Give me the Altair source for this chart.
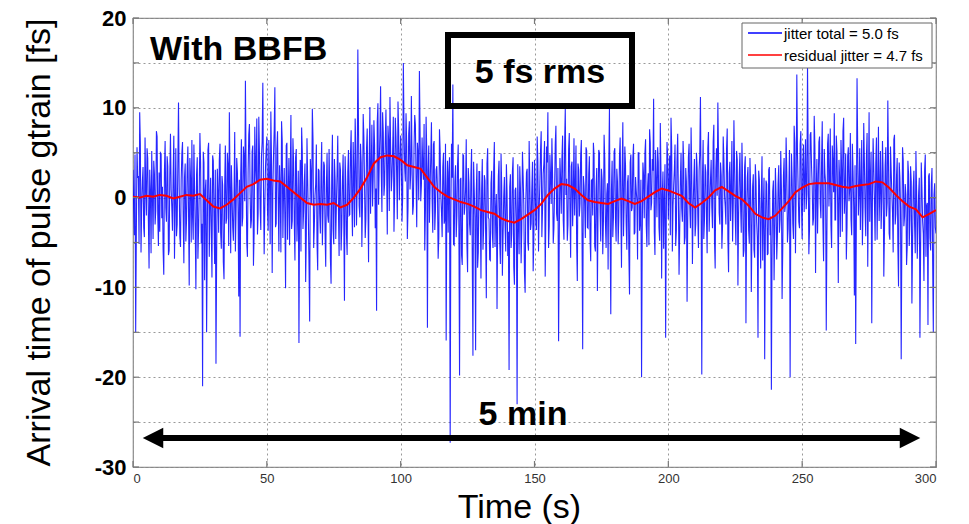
import altair as alt
import pandas as pd

# ---------------- data ----------------
# blue trace, samples every 0.5 s starting at t = 0
jitter_total = [
    3.1, -4.2, -15.0, 5.6, 2.4, 9.5, -6.1, 1.8, -3.3, 6.7, -2.0, 4.4, -7.9, 0.9, 5.2, -4.6, 2.7, -1.5, 6.8, -5.4,
    -3.8, 4.9, 1.2, -8.6, 6.3, -2.7, 3.5, -5.9, 7.1, -1.1, 2.6, -6.8, 5.5, -3.0, 10.6, -4.4, 1.9, 6.2, -7.3, 3.8,
    -2.5, 5.7, -9.8, 2.1, 6.4, -4.7, 1.3, -10.2, 4.5, -3.6, 7.2, -5.1, -21.0, 3.9, 0.8, -15.0, 5.3, -6.6, 2.2, -8.9,
    4.1, -7.4, -18.5, 3.2, -3.9, 6.0, -5.7, 1.4, -9.1, 5.8, -2.3, 3.7, 9.5, -6.2, 0.5, -4.8, 7.3, -1.7, 2.9, -11.0,
    -15.5, 6.5, -2.2, 4.3, 13.0, -5.0, 2.8, 8.2, -3.4, 5.1, -7.6, 7.9, 1.6, -4.1, 9.0, -1.2, 4.6, 12.8, -6.3, 3.4,
    6.8, -3.7, 2.3, 9.6, -8.4, 4.7, 12.3, -2.9, 7.4, -6.0, 1.1, 8.5, -4.5, 3.3, -10.1, 6.1, 0.4, -5.3, 9.2, -2.6,
    3.9, -7.0, 5.4, -1.8, -16.2, 4.2, 7.8, -3.5, 1.7, -9.4, 6.6, -2.1, -13.8, 2.5, 9.9, -5.6, 0.2, 5.9, -8.1, 3.0,
    -4.0, 6.2, -1.4, 3.6, -7.7, 5.0, -2.8, 1.0, -9.6, 7.0, -5.2, 2.0, -0.6, 6.9, -6.5, 3.1, -3.2, 4.8, -11.5, 1.5,
    -6.4, 5.3, -1.9, 7.5, -4.3, 2.4, 8.8, -3.1, 16.5, -0.9, 6.0, -5.5, 9.3, 1.8, -2.4, 7.7, -7.2, 10.1, 3.2, -1.0,
    8.6, -3.4, -12.6, 10.5, 4.0, 12.4, -1.6, 7.3, 1.5, 9.8, -4.1, 6.4, 11.2, 0.7, 5.2, -3.8, 8.9, 2.6, 10.7, -0.3,
    6.9, -2.7, 15.0, 3.4, 9.4, -4.6, 7.1, 0.9, 11.3, -1.9, 5.6, 8.1, -3.3, 4.9, 14.1, -0.4, 6.7, 2.0, -5.9, 9.0,
    -14.5, 5.8, 1.2, 8.4, -3.9, 6.3, -1.3, 3.5, -6.8, 7.6, 0.3, -4.4, 5.0, -2.5, -15.9, 4.1, 2.8, -27.3, 6.0, 12.6,
    -5.3, 3.6, -2.0, 5.9, -19.8, 2.2, -7.5, 4.7, -1.0, 6.5, -8.3, 1.7, -4.2, 5.4, -17.6, 0.6, -17.0, 3.8, -6.1, 2.9,
    -9.0, 4.3, -3.5, 1.9, -11.2, 5.5, -2.4, -7.0, 3.0, -5.6, 6.2, -1.5, -12.4, 2.4, -4.8, 4.9, -8.7, 0.1, -3.1, 3.7,
    -6.5, -19.2, 2.6, -4.0, 4.5, -9.7, 1.1, -23.0, -2.2, 3.5, -7.3, 5.1, -0.8, -10.6, 2.8, -5.0, 6.3, -3.6, 0.9, -8.2,
    4.2, -2.9, 6.8, -6.0, 1.6, 7.4, -1.3, 3.8, -8.8, 5.7, 9.5, -3.2, 2.3, 6.6, -5.1, 0.7, 8.0, -2.6, -16.0, 4.4,
    -1.8, 6.9, -4.7, 9.9, 2.1, -3.0, 7.2, -6.7, 4.0, 0.5, -2.0, 5.8, -9.3, 3.1, -0.7, 6.4, -16.9, 1.3, -4.5, 5.2,
    -3.4, 4.6, -7.1, 2.0, 6.1, -5.4, 1.0, -10.4, 5.3, -1.6, 3.2, -6.3, 7.0, -2.8, 0.4, -8.0, 9.9, -13.0, 4.1, -2.1,
    5.5, -4.9, 1.8, -2.2, 6.7, -7.8, 8.4, -0.5, 3.6, -5.8, 2.5, -10.8, 4.8, -1.1, 6.0, -3.9, 0.8, -6.9, 5.0, -2.7,
    -20.0, 3.9, -2.3, 6.5, -5.5, 2.7, 7.6, -1.4, 4.3, 11.0, -6.4, 1.9, 5.6, -3.3, 8.3, -9.0, 2.9, -0.2, -15.6, 6.2,
    -2.4, 4.7, 8.9, -6.0, 1.4, 5.9, -3.7, 7.1, -8.6, 2.0, -1.2, 6.3, -5.2, 3.3, -11.6, 4.5, -0.8, 7.8, -7.4, 1.7,
    -4.3, 5.0, -1.9, 3.0, 11.2, -19.7, 6.4, -2.5, 2.8, -6.2, 7.3, -0.6, 4.2, -3.4, 8.1, -7.9, 5.5, 10.6, -1.7, 3.9,
    -5.7, 6.8, 0.2, -3.0, 7.7, -8.3, 4.0, 1.1, -4.9, 8.6, -2.2, 5.2, -9.8, 2.6, -0.9, 6.1, -6.6, 3.4, -14.0, 2.2,
    -3.6, 4.4, -10.5, 1.3, -5.8, 3.7, -2.7, -15.6, 2.0, -7.9, 4.6, -1.0, -18.0, 1.9, -6.4, 3.1, -4.2, -21.4, 0.7, -9.2,
    3.3, -6.9, 1.5, -3.9, 5.2, -11.3, 2.4, -1.6, 6.7, -5.0, 0.3, -20.0, 4.9, -2.9, 8.0, -6.2, 13.7, 1.0, -3.4, 7.4,
    -4.6, 5.9, 2.1, -1.3, 14.7, -6.3, 7.0, 3.5, -3.1, 9.1, -8.4, 4.3, 1.2, 6.8, -2.3, 8.5, -7.1, 2.7, -14.8, 6.0,
    -1.0, 7.7, -5.6, 3.9, 9.4, -2.5, 5.1, -9.5, 2.2, 6.4, -3.8, 8.9, 0.5, -6.9, 4.6, -0.4, 7.2, -4.2, 3.0, -10.9,
    -16.3, 13.3, -2.0, 5.5, 1.8, -5.3, 8.3, -1.2, 4.5, -7.7, 9.5, 2.4, -14.0, 6.6, -0.5, 3.8, -4.7, 7.9, 0.9, -3.5,
    6.3, -8.8, 3.6, -2.1, 10.8, -4.0, 5.7, 0.6, -6.1, 7.0, -1.8, 4.4, -9.9, 2.3, -18.0, 5.6, -3.2, 1.5, -7.5, 4.1,
    -5.4, 3.5, -11.8, 1.1, -3.0, 5.2, -6.8, 0.4, -15.6, 3.9, -2.6, -9.3, 4.8, -0.9, -14.2, 2.7, -5.9, 3.3, -15.0, 1.6,
    -4.0,
]
# blue trace, the samples in between (t = 0.25, 0.75, ...)
jitter_total_mid = [
    -1.2, 4.8, -3.9, 2.2, -5.1, 6.0, -0.8, 3.4, -4.4, 1.0, 5.5, -2.6, 3.1, -6.2, 0.4, 4.1, -3.0, 7.4, -1.9, 2.8,
    5.0, -2.3, -5.8, 3.0, -1.1, 4.6, -6.4, 2.5, 0.9, -3.7, 6.9, -0.5, -4.3, 3.6, 1.4, -5.5, 4.9, -2.0, 2.3, -4.9,
    3.5, -1.7, 4.4, -5.0, -2.2, 5.9, -3.4, 2.6, -6.8, 0.7, 3.9, -2.9, 5.1, -9.2, 2.0, -4.1, 6.1, -0.9, -3.6, 4.7,
    -2.1, 3.1, -6.3, 0.6, 4.2, -4.0, 2.4, -7.2, 1.3, -2.9, 5.0, -5.4, 1.9, 3.6, -3.3, 0.2, -6.0, 4.4, -1.2, 2.0,
    2.6, -3.2, 5.7, -0.4, 3.3, -6.6, 7.0, 0.6, -2.5, 5.8, -4.0, 3.5, 8.8, -1.8, 4.9, -3.6, 6.2, 1.1, -0.9, 5.3,
    -1.5, 6.4, -5.2, 4.0, 0.9, 7.5, -3.3, 5.4, -0.2, 3.6, -6.1, 6.3, 0.7, -2.4, 5.8, -4.7, 4.4, 2.2, -3.5, 6.6,
    -2.6, 4.5, -4.9, 3.0, 0.1, -6.0, 5.1, -1.5, 3.8, -4.2, 2.1, -7.3, 4.3, -0.7, 6.5, -3.1, 1.5, -5.0, 3.2, -1.8,
    2.7, -5.3, 4.0, -3.8, 1.2, -2.0, 5.4, -6.8, 2.5, -3.5, 4.3, -4.6, 2.8, -1.3, 3.9, -5.9, 1.8, -2.5, 4.6, -4.1,
    2.9, -2.0, 4.8, -0.6, 6.2, -3.3, 5.0, 1.1, 7.8, -2.2, 3.9, -0.4, 6.8, -4.5, 5.5, 0.3, 4.3, -1.8, 8.1, 2.4,
    5.9, 1.0, 8.4, -0.8, 7.1, 2.9, 9.5, 0.2, 6.3, 3.5, 8.0, -1.5, 5.7, 2.4, 9.0, 0.6, 6.8, -2.4, 7.5, 3.9,
    4.5, 0.1, 7.6, 1.8, 5.9, -1.1, 8.5, 2.6, 4.0, -0.9, 9.2, 2.1, 6.1, -0.3, 7.4, 1.4, 3.5, 8.2, -1.4, 5.0,
    2.9, -2.8, 4.6, -0.2, 5.9, -3.6, 3.1, 0.8, -4.5, 5.2, -1.6, 3.4, -2.9, 6.0, 0.4, -3.9, 4.5, -1.5, 2.2, -5.2,
    1.8, -4.4, 3.7, -3.1, 2.0, -6.4, 4.8, -1.9, 1.0, -5.2, 3.3, -3.0, 2.7, -6.9, 4.0, -2.2, 0.6, -7.8, 2.9, -1.6,
    0.9, -5.8, 2.5, -4.1, 3.8, -2.2, -6.9, 1.6, -3.9, 3.1, -5.5, 0.4, -2.8, 4.1, -7.4, 1.3, -4.3, 2.3, -6.0, 0.5,
    -3.8, 1.2, -5.6, 2.9, -7.7, 0.8, -2.4, 3.7, -6.3, 1.0, -3.5, 2.4, -8.4, -0.6, 3.2, -5.9, 1.8, -2.9, 4.0, -4.7,
    1.5, -3.6, 4.1, -1.3, 5.2, -4.4, 2.7, 6.3, -2.0, 3.9, -5.6, 4.8, -0.7, 2.6, -3.4, 5.9, -1.8, 3.3, -4.6, 2.1,
    4.4, -2.6, 6.0, 0.3, -4.8, 5.4, -1.4, 3.5, -3.2, 6.6, 1.2, -5.1, 3.8, -2.1, 4.7, -4.0, 2.4, -0.8, 5.6, -3.3,
    2.6, -4.5, 1.9, -2.0, 4.7, -6.0, 3.3, -1.1, 5.0, -4.9, 2.0, -2.7, 4.3, -5.6, 1.6, 3.5, -3.6, 0.9, -4.4, 5.1,
    -2.4, 3.2, -5.2, 4.6, -0.9, 2.8, -4.3, 5.7, -2.9, 1.7, -6.2, 3.9, -1.5, 4.5, -4.1, 2.3, -0.3, 5.0, -3.7, 2.0,
    -4.0, 2.5, 4.9, -3.1, 1.2, -5.3, 6.1, -0.6, 3.0, -3.8, 5.3, -2.2, 4.0, -4.8, 2.9, 0.4, -5.7, 3.7, -1.9, 4.6,
    1.7, -4.2, 5.6, -0.9, 3.1, -5.4, 4.2, 0.3, -3.6, 5.0, -2.7, 3.9, -4.4, 1.8, -2.5, 6.0, -3.4, 2.6, -1.2, 4.3,
    -2.9, 3.3, -5.6, 4.9, -0.5, 2.2, -4.6, 3.7, -2.3, 5.5, -3.8, 2.0, -1.1, 6.2, -4.9, 3.1, 0.2, 4.8, -3.0, 2.5,
    -3.2, 4.3, -1.0, 5.4, -4.7, 2.7, -2.6, 6.3, -0.7, 3.6, -5.3, 4.2, -2.0, 5.0, -3.9, 1.9, -5.9, 4.6, -1.8, 3.4,
    -5.1, 0.9, -3.2, 2.6, -6.7, 1.8, -4.5, 3.0, -2.9, 0.4, -7.0, 2.2, -3.8, 1.5, -6.2, 3.4, -2.1, -5.5, 1.9, -4.0,
    0.2, -4.3, 3.6, -2.4, 1.0, -5.7, 4.4, -0.8, 2.9, -3.5, 5.3, -1.9, 2.1, -4.6, 6.1, 0.5, 4.8, -2.7, 5.9, -0.9,
    3.7, -1.6, 6.5, 0.4, 4.7, -3.4, 7.3, 1.2, -2.3, 5.7, 0.8, -4.0, 6.2, -0.6, 3.9, -2.8, 5.4, 1.6, -3.8, 7.1,
    2.2, -3.0, 5.8, 0.6, -2.5, 6.9, -0.7, 4.2, -4.4, 3.1, 7.4, -1.8, 4.9, -3.3, 5.6, 0.9, -2.4, 6.0, -1.0, 3.6,
    -2.2, 5.3, 0.5, -3.6, 6.4, -1.0, 4.0, -4.3, 7.2, 0.8, -2.7, 5.1, -0.2, 3.4, -4.8, 6.7, 1.3, -2.6, 5.2, -0.3,
    2.9, -3.8, 5.6, -0.6, 4.1, -4.7, 3.0, -1.6, 6.5, -3.0, 2.4, -5.4, 3.9, -1.1, -4.0, 4.2, -2.1, 0.3, -5.5, 2.6,
    -2.5, 1.8, -4.9, 3.0, -6.2, 0.8, -3.2, 2.2, -5.7, 1.0, -4.0, 3.1, -6.6, -0.6, 2.4, -4.5, 1.5, -7.2, 0.3, -3.3,
]

# red trace (residual), samples every 2.5 s starting at t = 0
residual_jitter = [
    0.1, 0.0, 0.2, 0.1, 0.3, 0.2, -0.1, 0.1, 0.3, 0.2, 0.4, -0.3, -1.0, -1.2, -0.8, -0.2, 0.5, 1.2, 1.5, 2.0,
    2.1, 1.9, 1.8, 1.2, 0.6, 0.0, -0.6, -0.8, -0.7, -0.8, -0.6, -1.1, -0.8, 0.0, 1.0, 2.3, 3.8, 4.5, 4.7, 4.6,
    4.2, 3.6, 3.4, 3.2, 2.2, 1.2, 0.6, 0.1, -0.2, -0.5, -0.7, -1.0, -1.4, -1.6, -1.8, -2.3, -2.6, -2.8, -2.4, -1.9,
    -1.4, -0.7, 0.3, 1.0, 1.5, 1.4, 1.0, 0.3, -0.3, -0.5, -0.6, -0.7, -0.4, -0.1, -0.4, -0.7, -0.4, 0.1, 0.6, 1.0,
    0.8, 0.5, 0.2, -0.6, -1.1, -0.6, 0.0, 0.8, 1.2, 0.7, 0.2, -0.2, -0.9, -1.8, -2.2, -2.4, -2.0, -1.2, -0.4, 0.6,
    1.1, 1.5, 1.6, 1.6, 1.6, 1.4, 1.2, 1.1, 1.3, 1.4, 1.5, 1.8, 1.7, 1.1, 0.3, -0.4, -1.0, -1.3, -2.2, -1.8,
    -1.4,
]

x_ticks = [0, 50, 100, 150, 200, 250, 300]
y_ticks = [-30, -25, -20, -15, -10, -5, 0, 5, 10, 15, 20]

legend_labels = ["jitter total = 5.0 fs", "residual jitter = 4.7 fs"]
legend_colors = ["#0000ff", "#ff0000"]

df_blue = pd.concat([
    pd.DataFrame({"t": [i * 0.5 for i in range(len(jitter_total))], "v": jitter_total}),
    pd.DataFrame({"t": [i * 0.5 + 0.25 for i in range(len(jitter_total_mid))], "v": jitter_total_mid}),
]).sort_values("t").reset_index(drop=True)
df_red = pd.DataFrame({"t": [i * 2.5 for i in range(len(residual_jitter))], "v": residual_jitter})
one = pd.DataFrame({"a": [0]})

W, H = 803, 449
FONT = "Liberation Sans"

xs = alt.Scale(domain=[0, 300], nice=False, zero=False)
ys = alt.Scale(domain=[-30, 20], nice=False, zero=False)

x_axis = alt.Axis(
    values=x_ticks, title="Time (s)", titleFont=FONT, titleFontSize=34, titleFontWeight="normal",
    titleColor="black", titleX=386, titleY=50, titleAlign="center", titleBaseline="alphabetic",
    labelFont=FONT, labelFontSize=13, labelColor="#333", labelPadding=5, ticks=False, domain=False,
    grid=True, gridDash=[2, 3], gridColor="#999", gridWidth=1,
)
y_axis = alt.Axis(
    values=y_ticks, labelExpr="datum.value % 10 == 0 ? '' + datum.value : ''",
    title="Arrival time of pulse gtrain [fs]", titleFont=FONT, titleFontSize=34, titleFontWeight="normal",
    titleColor="black", titleAngle=270, titleX=-84, titleY=224, titleAlign="center",
    titleBaseline="alphabetic",
    labelFont=FONT, labelFontSize=22, labelFontWeight="bold", labelColor="black", labelPadding=7,
    ticks=False, domain=False, grid=True, gridDash=[2, 3], gridColor="#999", gridWidth=1,
)

X = alt.X("t:Q", scale=xs, axis=x_axis)
Y = alt.Y("v:Q", scale=ys, axis=y_axis)

blue = alt.Chart(df_blue).mark_line(color="#0000ff", strokeWidth=1.1, strokeOpacity=0.85, clip=True).encode(x=X, y=Y)
red = alt.Chart(df_red).mark_line(color="#ff0000", strokeWidth=2, clip=True).encode(x=X, y=Y)

# inward tick marks (MATLAB style box), pixel offsets from the frame
tick_col = "#777"
ticks_y = pd.DataFrame({"v": y_ticks})
ticks_x = pd.DataFrame({"t": x_ticks})
yt_left = alt.Chart(ticks_y).mark_rule(color=tick_col, strokeWidth=1.2).encode(
    y=Y, x=alt.value(0), x2=alt.value(6))
yt_right = alt.Chart(ticks_y).mark_rule(color=tick_col, strokeWidth=1.2).encode(
    y=Y, x=alt.value(W - 6), x2=alt.value(W))
xt_bot = alt.Chart(ticks_x).mark_rule(color=tick_col, strokeWidth=1.2).encode(
    x=X, y=alt.value(H - 6), y2=alt.value(H))
xt_top = alt.Chart(ticks_x).mark_rule(color=tick_col, strokeWidth=1.2).encode(
    x=X, y=alt.value(0), y2=alt.value(6))

# annotations
txt_bbfb = alt.Chart(one).mark_text(font=FONT, fontSize=34, fontWeight="bold", align="left",
                                    baseline="alphabetic", color="black").encode(
    x=alt.value(17), y=alt.value(42), text=alt.value("With BBFB"))
box = alt.Chart(one).mark_rect(fillOpacity=0, stroke="black", strokeWidth=6).encode(
    x=alt.value(315), x2=alt.value(499), y=alt.value(17), y2=alt.value(88))
txt_rms = alt.Chart(one).mark_text(font=FONT, fontSize=34, fontWeight="bold", align="center",
                                   baseline="alphabetic", color="black").encode(
    x=alt.value(407), y=alt.value(65), text=alt.value("5 fs rms"))

arrow_line = alt.Chart(one).mark_rule(color="black", strokeWidth=6).encode(
    x=alt.value(27), x2=alt.value(772), y=alt.value(420))
arrow_left = alt.Chart(one).mark_point(shape="M1,-1L-1,0L1,1Z", size=420, filled=True,
                                       color="black", opacity=1).encode(
    x=alt.value(20), y=alt.value(420))
arrow_right = alt.Chart(one).mark_point(shape="M-1,-1L1,0L-1,1Z", size=420, filled=True,
                                        color="black", opacity=1).encode(
    x=alt.value(777), y=alt.value(420))
txt_min = alt.Chart(one).mark_text(font=FONT, fontSize=34, fontWeight="bold", align="center",
                                   baseline="alphabetic", color="black").encode(
    x=alt.value(390), y=alt.value(407), text=alt.value("5 min"))

# legend (drawn by hand, MATLAB style)
leg_box = alt.Chart(one).mark_rect(fill="white", stroke="#666", strokeWidth=1).encode(
    x=alt.value(609), x2=alt.value(799), y=alt.value(5), y2=alt.value(50))
leg_layers = []
for i, (lab, col) in enumerate(zip(legend_labels, legend_colors)):
    yy = 15 + 22 * i
    leg_layers.append(alt.Chart(one).mark_rule(color=col, strokeWidth=1.5).encode(
        x=alt.value(615), x2=alt.value(649), y=alt.value(yy)))
    leg_layers.append(alt.Chart(one).mark_text(font=FONT, fontSize=15, align="left", baseline="middle",
                                               color="black").encode(
        x=alt.value(651), y=alt.value(yy + 1), text=alt.value(lab)))

chart = alt.layer(
    blue, red, yt_left, yt_right, xt_bot, xt_top,
    txt_bbfb, box, txt_rms, arrow_line, arrow_left, arrow_right, txt_min,
    leg_box, *leg_layers,
).properties(
    width=W, height=H,
    autosize=alt.AutoSizeParams(type="none"),
    padding={"left": 133, "top": 18, "right": 33, "bottom": 57},
    background="white",
).configure_view(stroke="#888", strokeWidth=1.2)

chart.save("out.html", embed_options={"renderer": "svg", "actions": False})
